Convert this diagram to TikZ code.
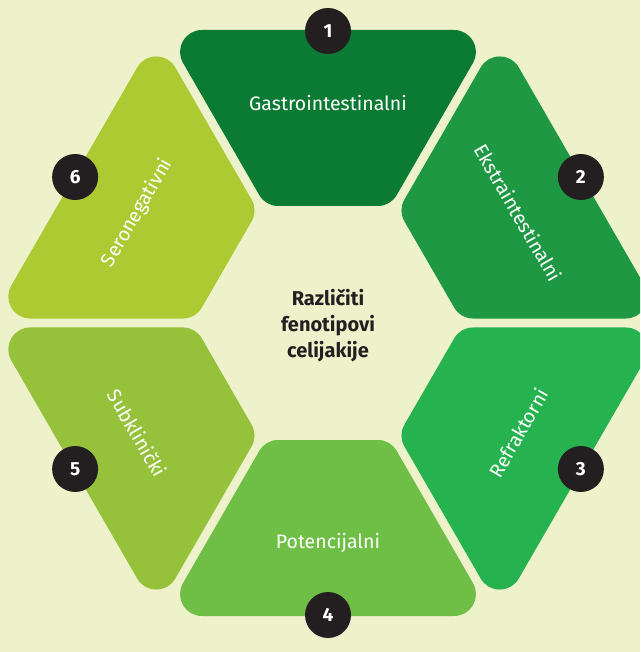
\documentclass[tikz,border=0pt]{standalone}
\usepackage{fontspec}
\setmainfont{Fira Sans}
\usetikzlibrary{positioning}

\definecolor{paper}{HTML}{EDF2CB}
\definecolor{ink}{HTML}{231F20}
\definecolor{gastro}{HTML}{0B7A33}
\definecolor{ekstra}{HTML}{1E9843}
\definecolor{refrakt}{HTML}{25B24F}
\definecolor{potenc}{HTML}{6FBE46}
\definecolor{subklin}{HTML}{95C13B}
\definecolor{seroneg}{HTML}{ADCA33}

\begin{document}
\begin{tikzpicture}[x=1pt,y=1pt,
    phenotype/.style={text=white,font=\fontsize{19.5}{22}\selectfont},
    badge/.style={circle,fill=ink,text=white,minimum size=46pt,inner sep=0pt,
                  font=\bfseries\fontsize{19}{22}\selectfont}]
  \fill[paper] (-328,-329) rectangle (312,323);
  \clip (-328,-329) rectangle (312,323);

  % one ring segment per phenotype, turned around the centre;
  % the thick round-joined stroke rounds off the corners
  \foreach \ang/\col/\num/\txt/\rot in {90/gastro/1/Gastrointestinalni/0,
                                       30/ekstra/2/Ekstraintestinalni/-60,
                                       -30/refrakt/3/Refraktorni/60,
                                       -90/potenc/4/Potencijalni/0,
                                       -150/subklin/5/Subklinički/-60,
                                       150/seroneg/6/Seronegativni/60} {
    \filldraw[\col, line width=44pt, line join=round, rotate=\ang-90]
      (-125.9,271) -- (125.9,271) -- (49.7,139) -- (-49.7,139) -- cycle;
    \node[phenotype, rotate=\rot] (lbl\num) at (\ang:220) {\txt};
    \node[badge] (num\num) at (\ang:292) {\num};
  }

  \node[align=center, text=ink, font=\bfseries\fontsize{20}{26}\selectfont]
    (title) at (0,-3) {Različiti\\fenotipovi\\celijakije};
\end{tikzpicture}
\end{document}
